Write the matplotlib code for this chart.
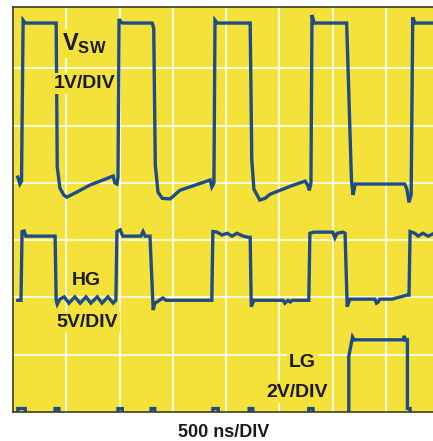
import matplotlib
matplotlib.use("Agg")
import matplotlib.pyplot as plt

# Scope traces, in screen divisions (x: 500 ns/div, y: graticule divisions)
vsw_t = [0.09, 0.13, 0.16, 0.19, 0.23, 0.79, 0.81, 0.83, 0.88, 0.95, 1.01, 1.20, 1.44, 1.69, 1.88,
         1.91, 1.95, 1.97, 1.99, 2.03, 2.06, 2.61, 2.64, 2.67, 2.72, 2.80, 2.95, 3.13, 3.51, 3.70,
         3.73, 3.77, 3.79, 3.83, 4.45, 4.48, 4.52, 4.63, 4.73, 4.82, 5.01, 5.20, 5.48, 5.53, 5.56,
         5.59, 5.61, 5.65, 6.26, 6.35, 6.38, 6.42, 7.35, 7.39, 7.43, 7.47, 7.50, 7.54, 7.88]
vsw_v = [4.10, 3.98, 4.03, 6.84, 6.79, 6.79, 6.79, 4.28, 3.91, 3.79, 3.75, 3.84, 3.96, 4.05, 4.12,
         4.00, 3.98, 4.10, 6.86, 6.80, 6.79, 6.79, 6.70, 4.31, 3.84, 3.73, 3.72, 3.87, 3.99, 4.05,
         3.93, 4.00, 6.84, 6.79, 6.79, 4.40, 3.89, 3.70, 3.73, 3.80, 3.87, 3.94, 4.03, 3.96, 3.87,
         4.00, 6.93, 6.79, 6.79, 4.05, 3.79, 3.98, 3.98, 3.89, 3.66, 3.80, 6.89, 6.79, 6.79]

hg_t = [0.09, 0.15, 0.17, 0.21, 0.24, 0.79, 0.81, 0.83, 0.88, 0.96, 1.05, 1.16, 1.26, 1.37, 1.46,
        1.58, 1.67, 1.78, 1.88, 1.93, 1.95, 2.01, 2.06, 2.40, 2.44, 2.48, 2.57, 2.63, 2.66, 2.70,
        2.81, 2.87, 3.73, 3.75, 3.83, 3.92, 4.02, 4.11, 4.20, 4.32, 4.41, 4.45, 4.47, 4.52, 5.07,
        5.10, 5.16, 5.20, 5.24, 5.55, 5.57, 5.65, 6.00, 6.04, 6.08, 6.19, 6.23, 6.27, 6.32, 6.79,
        6.82, 6.85, 6.88, 7.11, 7.39, 7.43, 7.45, 7.54, 7.60, 7.69, 7.79, 7.88]
hg_v = [1.95, 1.95, 3.15, 3.16, 3.07, 3.07, 1.95, 1.88, 1.97, 2.01, 1.90, 2.01, 1.90, 2.01, 1.90,
        2.01, 1.90, 2.01, 1.90, 1.95, 3.15, 3.18, 3.07, 3.07, 3.15, 3.07, 3.07, 1.78, 1.90, 1.92,
        1.99, 1.95, 1.95, 3.15, 3.14, 3.09, 3.12, 3.07, 3.12, 3.07, 3.05, 3.05, 1.84, 1.95, 1.95,
        1.90, 1.95, 1.92, 1.95, 1.95, 3.12, 3.14, 3.14, 3.04, 3.12, 3.14, 3.12, 1.84, 1.97, 1.97,
        1.90, 1.92, 1.97, 1.97, 2.04, 2.04, 3.15, 3.12, 3.07, 3.12, 3.07, 3.11]

lg_t = [0.09, 0.09, 0.23, 0.23, 0.79, 0.79, 0.86, 0.86, 1.97, 1.97, 2.05, 2.05, 2.59, 2.59, 2.66,
        2.66, 3.75, 3.75, 3.85, 3.85, 4.43, 4.43, 4.50, 4.50, 5.55, 5.55, 5.63, 5.63, 6.30, 6.30,
        6.37, 6.40, 7.33, 7.34, 7.36, 7.40, 7.40, 7.45, 7.45, 7.88]
lg_v = [-0.06, 0.06, 0.06, -0.06, -0.06, 0.06, 0.06, -0.06, -0.06, 0.06, 0.06, -0.06, -0.06, 0.06, 0.06,
        -0.06, -0.06, 0.06, 0.06, -0.06, -0.06, 0.06, 0.06, -0.06, -0.06, 0.06, 0.06, -0.06, -0.06, 0.97,
        1.31, 1.26, 1.26, 1.33, 1.26, 1.26, 0.06, 0.06, -0.06, -0.06]

yellow = "#F4E23A"
trace = "#1E4C86"
ink = "#1a1a1a"
font = ["Liberation Sans", "DejaVu Sans"]
plt.rcParams["mathtext.fontset"] = "custom"
plt.rcParams["mathtext.rm"] = "Liberation Sans"
plt.rcParams["mathtext.bf"] = "Liberation Sans:bold"

fig = plt.figure(figsize=(4.33, 4.41), dpi=100)
ax = fig.add_axes([13 / 433, 29 / 441, 420 / 433, 405 / 441])
ax.set_facecolor(yellow)
ax.set_xlim(0, 7.88)
ax.set_ylim(0, 7.07)

# graticule
ax.set_xticks(range(1, 8))
ax.set_yticks(range(1, 7))
ax.grid(True, color="white", lw=1.2)
ax.tick_params(length=0, labelbottom=False, labelleft=False)
for side in ["top", "left", "bottom"]:
    ax.spines[side].set_color("#3b3b2c")
    ax.spines[side].set_linewidth(1.2)
ax.spines["right"].set_visible(False)

for t, v in [(vsw_t, vsw_v), (hg_t, hg_v), (lg_t, lg_v)]:
    ax.plot(t, v, color=trace, lw=2.4, solid_joinstyle="miter")

box = dict(facecolor=yellow, edgecolor="none", pad=1.5)
ax.text(0.92, 6.32, r"$\mathbf{V_{SW}}$", fontsize=17, color=ink,
        ha="left", va="baseline", bbox=box)
labels = [(1.34, 5.65, "1V/DIV"), (1.37, 2.22, "HG"), (1.39, 1.48, "5V/DIV"),
          (5.43, 0.79, "LG"), (5.33, 0.26, "2V/DIV")]
for x, y, s in labels:
    ax.text(x, y, s, fontsize=14, fontweight="bold", family=font, color=ink,
            ha="center", va="baseline", bbox=box)

fig.text(224 / 433, 4 / 441, "500 ns/DIV", fontsize=13, fontweight="bold", family=font,
         color=ink, ha="center", va="baseline")

fig.savefig("out.png", dpi=100)
